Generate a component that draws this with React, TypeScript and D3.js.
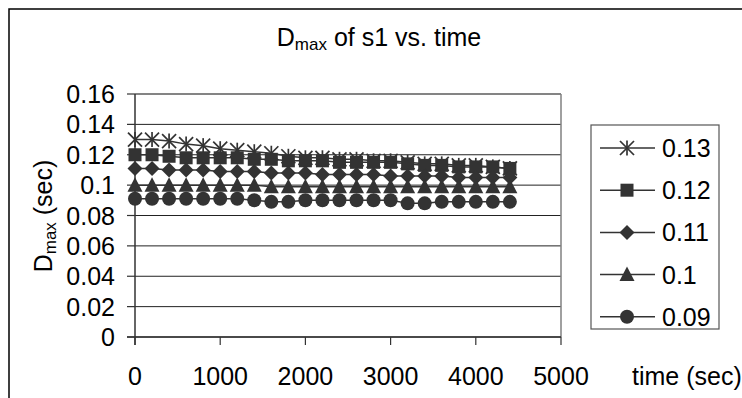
import React from "react";
import * as d3 from "d3";

// Sample times (sec)
const times = [0, 200, 400, 600, 800, 1000, 1200, 1400, 1600, 1800, 2000, 2200, 2400, 2600, 2800, 3000, 3200, 3400, 3600, 3800, 4000, 4200, 4400];

// Measured Dmax (sec) per configured Dmax value
const series013 = [0.130, 0.130, 0.129, 0.127, 0.126, 0.124, 0.123, 0.122, 0.121, 0.119, 0.118, 0.118, 0.117, 0.117, 0.116, 0.116, 0.115, 0.114, 0.114, 0.113, 0.113, 0.112, 0.111];
const series012 = [0.120, 0.120, 0.119, 0.118, 0.118, 0.118, 0.118, 0.117, 0.117, 0.116, 0.116, 0.116, 0.115, 0.115, 0.115, 0.115, 0.114, 0.113, 0.113, 0.112, 0.112, 0.112, 0.111];
const series011 = [0.111, 0.111, 0.110, 0.110, 0.110, 0.109, 0.109, 0.109, 0.108, 0.108, 0.108, 0.107, 0.107, 0.107, 0.107, 0.106, 0.106, 0.106, 0.106, 0.105, 0.105, 0.105, 0.105];
const series010 = [0.100, 0.100, 0.100, 0.100, 0.100, 0.100, 0.100, 0.100, 0.099, 0.099, 0.099, 0.099, 0.099, 0.099, 0.099, 0.099, 0.099, 0.099, 0.099, 0.099, 0.099, 0.099, 0.099];
const series009 = [0.091, 0.091, 0.091, 0.091, 0.091, 0.091, 0.091, 0.090, 0.089, 0.089, 0.090, 0.090, 0.090, 0.090, 0.090, 0.090, 0.088, 0.088, 0.089, 0.089, 0.089, 0.089, 0.089];

const seriesNames = ["0.13", "0.12", "0.11", "0.1", "0.09"];
const seriesValues = [series013, series012, series011, series010, series009];
const markerKinds = ["star", "square", "diamond", "triangle", "circle"];

const xTicks = [0, 1000, 2000, 3000, 4000, 5000];
const yTicks = [0, 0.02, 0.04, 0.06, 0.08, 0.1, 0.12, 0.14, 0.16];

const FONT = "'Liberation Sans', Arial, sans-serif";
const INK = "#333333";
const FS = 25;

const plot = { left: 135, right: 561, top: 94, bottom: 337 };

const x = d3.scaleLinear().domain([0, 5000]).range([plot.left, plot.right]);
const y = d3.scaleLinear().domain([0, 0.16]).range([plot.bottom, plot.top]);

function Marker({ kind, cx, cy }: { kind: string; cx: number; cy: number }) {
  const s = 7;
  if (kind === "star") {
    return (
      <g stroke={INK} strokeWidth={1.7}>
        <line x1={cx} y1={cy - s - 0.5} x2={cx} y2={cy + s + 0.5} />
        <line x1={cx - s} y1={cy - s} x2={cx + s} y2={cy + s} />
        <line x1={cx - s} y1={cy + s} x2={cx + s} y2={cy - s} />
      </g>
    );
  }
  if (kind === "square") {
    return <rect x={cx - 6.5} y={cy - 6.5} width={13} height={13} fill={INK} />;
  }
  if (kind === "diamond") {
    const p = d3.path();
    p.moveTo(cx, cy - 7.5);
    p.lineTo(cx + 7.5, cy);
    p.lineTo(cx, cy + 7.5);
    p.lineTo(cx - 7.5, cy);
    p.closePath();
    return <path d={p.toString()} fill={INK} />;
  }
  if (kind === "triangle") {
    const p = d3.path();
    p.moveTo(cx, cy - 8);
    p.lineTo(cx + 7.5, cy + 6.5);
    p.lineTo(cx - 7.5, cy + 6.5);
    p.closePath();
    return <path d={p.toString()} fill={INK} />;
  }
  return <circle cx={cx} cy={cy} r={7} fill={INK} />;
}

export default function App() {
  const line = d3
    .line<number>()
    .x((_, i) => x(times[i]))
    .y((v) => y(v));

  const legendX = 591;
  const legendY = 125;
  const legendItemY = (i: number) => 148 + i * 42.2;

  return (
    <svg
      width={742}
      height={398}
      style={{ position: "absolute", left: 0, top: 0, background: "#fff" }}
      fontFamily={FONT}
    >
      <rect x={0} y={0} width={742} height={398} fill="#fff" />
      {/* chart area border */}
      <rect x={9} y={9} width={800} height={500} fill="none" stroke="#000" strokeWidth={1.5} />

      {/* title */}
      <text x={379} y={46} textAnchor="middle" fontSize={25} fill="#000">
        D<tspan fontSize={17} dy={4}>max</tspan>
        <tspan dy={-4}> of s1 vs. time</tspan>
      </text>

      {/* gridlines */}
      {yTicks.map((t) => (
        <line key={t} x1={plot.left} x2={plot.right} y1={y(t)} y2={y(t)} stroke="#222" strokeWidth={1} />
      ))}
      {/* plot area border (top and right) */}
      <line x1={plot.left} x2={plot.right} y1={plot.top} y2={plot.top} stroke="#808080" strokeWidth={1.5} />
      <line x1={plot.right} x2={plot.right} y1={plot.top} y2={plot.bottom} stroke="#808080" strokeWidth={1.5} />

      {/* axes */}
      <line x1={plot.left} x2={plot.left} y1={plot.top} y2={plot.bottom + 8} stroke={INK} strokeWidth={1.5} />
      <line x1={plot.left - 8} x2={plot.right} y1={plot.bottom} y2={plot.bottom} stroke={INK} strokeWidth={1.5} />
      {yTicks.map((t) => (
        <g key={"yt" + t}>
          <line x1={plot.left - 8} x2={plot.left} y1={y(t)} y2={y(t)} stroke={INK} strokeWidth={1.2} />
          <text x={115} y={y(t) + 9} textAnchor="end" fontSize={FS} fill="#000">
            {d3.format("~g")(t)}
          </text>
        </g>
      ))}
      {xTicks.map((t) => (
        <g key={"xt" + t}>
          <line x1={x(t)} x2={x(t)} y1={plot.bottom} y2={plot.bottom + 8} stroke={INK} strokeWidth={1.2} />
          <text x={x(t)} y={385} textAnchor="middle" fontSize={FS} fill="#000">
            {t}
          </text>
        </g>
      ))}

      {/* axis titles */}
      <text x={632} y={385} fontSize={FS} fill="#000">time (sec)</text>
      <text transform={`translate(52, 216) rotate(-90)`} textAnchor="middle" fontSize={FS} fill="#000">
        D<tspan fontSize={17} dy={4}>max</tspan>
        <tspan dy={-4}> (sec)</tspan>
      </text>

      {/* series */}
      {seriesValues.map((vals, si) => (
        <g key={"s" + si}>
          <path d={line(vals) || ""} fill="none" stroke={INK} strokeWidth={1.5} />
          {vals.map((v, i) => (
            <Marker key={i} kind={markerKinds[si]} cx={x(times[i])} cy={y(v)} />
          ))}
        </g>
      ))}

      {/* legend */}
      <rect x={legendX} y={legendY} width={128} height={204} fill="#fff" stroke="#555" strokeWidth={1.2} />
      {seriesNames.map((name, i) => (
        <g key={"lg" + i}>
          <line x1={600} x2={655} y1={legendItemY(i)} y2={legendItemY(i)} stroke={INK} strokeWidth={1.5} />
          <Marker kind={markerKinds[i]} cx={627} cy={legendItemY(i)} />
          <text x={662} y={legendItemY(i) + 9} fontSize={FS} fill="#000">
            {name}
          </text>
        </g>
      ))}
    </svg>
  );
}
